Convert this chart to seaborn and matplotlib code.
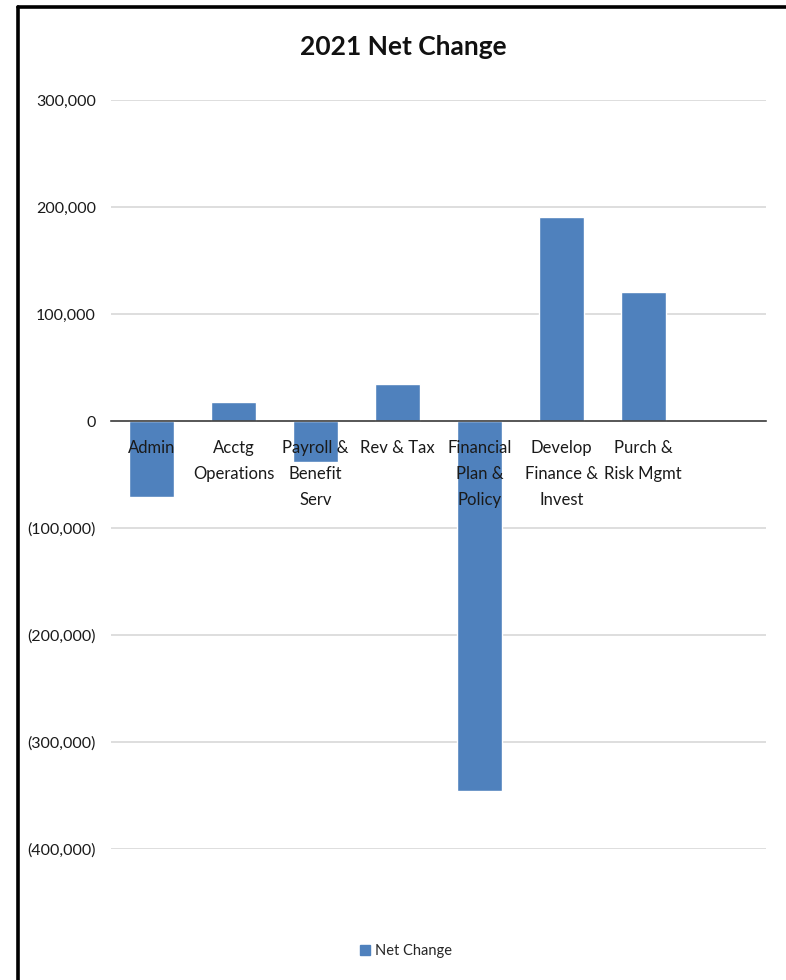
import matplotlib
matplotlib.use("Agg")
import matplotlib.pyplot as plt
from matplotlib.lines import Line2D
from matplotlib.patches import Patch
from matplotlib.ticker import FuncFormatter, FixedLocator
import pandas as pd
import seaborn as sns

# chart data
departments = ["Admin", "Acctg\nOperations", "Payroll &\nBenefit\nServ", "Rev & Tax",
               "Financial\nPlan &\nPolicy", "Develop\nFinance &\nInvest", "Purch &\nRisk Mgmt"]
net_change = [-71000, 18000, -38000, 34600, -345800, 190600, 120500]
y_ticks = [300000, 200000, 100000, 0, -100000, -200000, -300000, -400000]

bar_color = "#4F81BD"

sns.set_theme(style="white")
plt.rcParams['font.family'] = ['Lato', 'DejaVu Sans']

df = pd.DataFrame({"department": departments, "net_change": net_change})

fig = plt.figure(figsize=(7.86, 9.80), dpi=100)
ax = fig.add_axes([111/786, 1 - 849/980, (766 - 111)/786, (849 - 100)/980])

sns.barplot(data=df, x="department", y="net_change", color=bar_color,
            width=0.55, saturation=1, ax=ax, zorder=2)

# one empty slot on the right like the original
ax.set_xlim(-0.5, 7.5)
ax.set_ylim(-400000, 300000)

ax.yaxis.set_major_locator(FixedLocator(y_ticks))
ax.yaxis.set_major_formatter(FuncFormatter(
    lambda v, p: "0" if v == 0 else (f"{v:,.0f}" if v > 0 else f"({-v:,.0f})")))
ax.grid(axis="y", color="#d4d4d4", linewidth=1.1)
ax.yaxis.set_zorder(0.5)
ax.tick_params(axis="y", length=0, pad=11, labelsize=11.5, labelcolor="#1a1a1a")

# category axis sits at zero, labels drawn over the bars
for s in ["top", "right", "left"]:
    ax.spines[s].set_visible(False)
ax.spines["bottom"].set_position(("data", 0))
ax.spines["bottom"].set_color("#404040")
ax.spines["bottom"].set_linewidth(1.2)
ax.spines["bottom"].set_zorder(4)
ax.xaxis.set_zorder(5)
ax.set_xticks([i + 0.5 for i in range(-1, 8)], minor=True)
ax.tick_params(axis="x", which="minor", length=5, width=1.2, color="#404040", direction="out")
ax.tick_params(axis="x", which="major", length=0, pad=14, labelsize=12, labelcolor="#1a1a1a")
for lbl in ax.get_xticklabels():
    lbl.set_linespacing(1.75)
    lbl.set_verticalalignment("top")
ax.set_xlabel("")
ax.set_ylabel("")

fig.text(403/786, 1 - 47/980, "2021 Net Change", ha="center", va="center",
         fontsize=19, fontweight="bold", color="#111111")

fig.legend(handles=[Patch(color=bar_color, label="Net Change")],
           loc="center", bbox_to_anchor=(406/786, 1 - 951/980), frameon=False,
           fontsize=10.5, handlelength=0.7, handleheight=0.7, handletextpad=0.3)

# black frame on left and top (image is cropped on the other sides)
fx, fy = 17.5/786, 1 - 7.5/980
fig.add_artist(Line2D([fx, fx], [0, fy], color="black", linewidth=2.6, transform=fig.transFigure))
fig.add_artist(Line2D([fx, 1], [fy, fy], color="black", linewidth=2.6, transform=fig.transFigure))

fig.savefig("out.png", dpi=100)
